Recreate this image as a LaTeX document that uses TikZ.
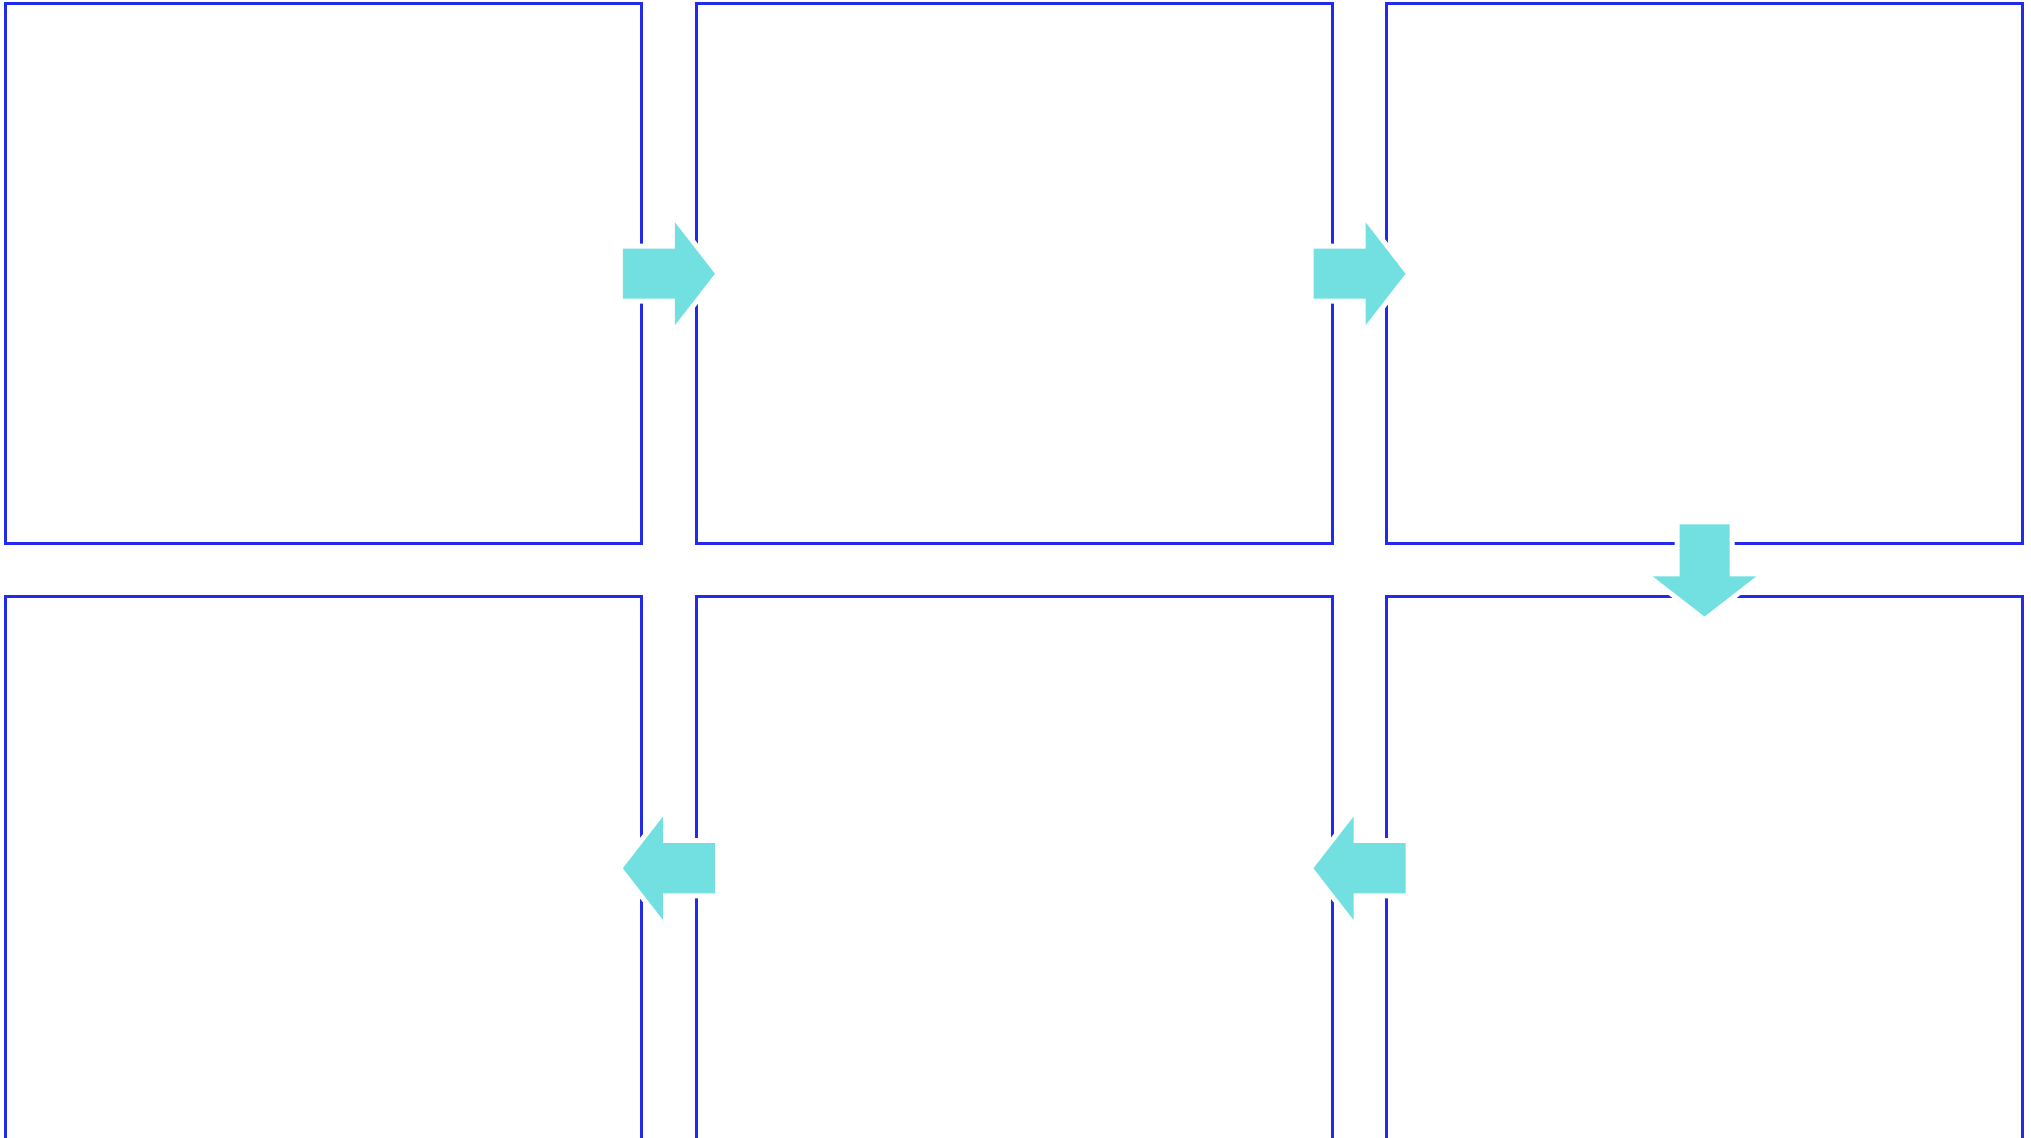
\documentclass[tikz,border=0pt]{standalone}
\usetikzlibrary{calc}
\definecolor{panelblue}{RGB}{34,43,236}
\definecolor{arrowcyan}{RGB}{114,224,225}
\begin{document}
\begin{tikzpicture}[x=0.5pt,y=-0.5pt,
  panel/.style={draw=panelblue, line width=1.5pt, fill=none, inner sep=0pt, outer sep=0pt,
    minimum width=317.75pt, minimum height=270.25pt},
  lowpanel/.style={panel, minimum height=271.25pt},
  arrowfill/.style={fill=arrowcyan, preaction={draw=white, line width=5pt, line join=miter}},
  fatarrow/.pic={\path[arrowfill] (-46,25) -- (6,25) -- (6,51.5) -- (46,0) -- (6,-51.5) -- (6,-25) -- (-46,-25) -- cycle;}
]
\useasboundingbox (0,0) rectangle (2031,1138);
\node[panel] (p1) at (323.25,273.75) {};
\node[panel] (p2) at (1014.5,273.75) {};
\node[panel] (p3) at (1704.5,273.75) {};
\node[lowpanel] (p4) at (323.25,868.25) {};
\node[lowpanel] (p5) at (1014.5,868.25) {};
\node[lowpanel] (p6) at (1704.5,868.25) {};
\path ($(p1.east)!0.5!(p2.west)$) pic {fatarrow};
\path ($(p2.east)!0.5!(p3.west)$) pic {fatarrow};
\path ($(p3.south)!0.5!(p6.north)$) pic[rotate=-90] {fatarrow};
\path ($(p6.west)!0.5!(p5.east)$) pic[rotate=180] {fatarrow};
\path ($(p5.west)!0.5!(p4.east)$) pic[rotate=180] {fatarrow};
\end{tikzpicture}
\end{document}
